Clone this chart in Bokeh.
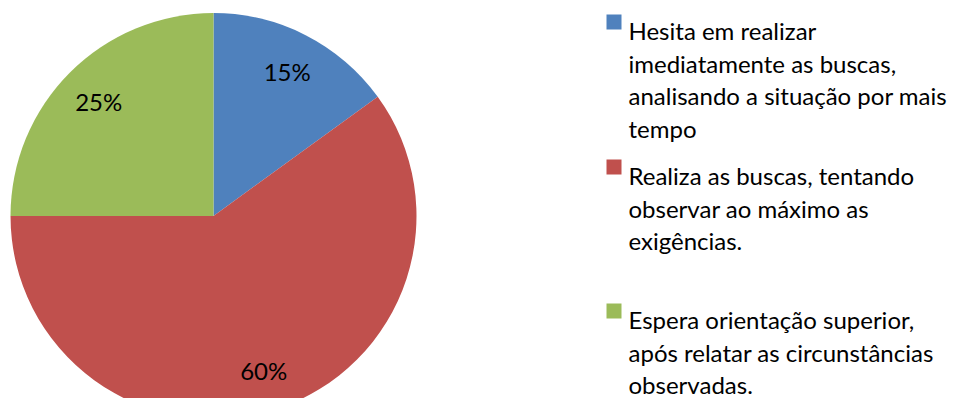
import math
from bokeh.plotting import figure
from bokeh.models import Range1d, ColumnDataSource
from bokeh.core.properties import value
from bokeh.embed import file_html
from bokeh.resources import INLINE

# ---- data ----
categories = [
    "Hesita em realizar imediatamente as buscas, analisando a situação por mais tempo",
    "Realiza as buscas, tentando observar ao máximo as exigências.",
    "Espera orientação superior, após relatar as circunstâncias observadas.",
]
legend_lines = [
    ["Hesita em realizar", "imediatamente as buscas,", "analisando a situação por mais", "tempo"],
    ["Realiza as buscas, tentando", "observar ao máximo as", "exigências."],
    ["Espera orientação superior,", "após relatar as circunstâncias", "observadas."],
]
shares = [15, 60, 25]
colors = ["#4F81BD", "#C0504D", "#9BBB59"]

# ---- layout (figure pixel coordinates) ----
W, H = 953, 398
FONT = "Lato"
FS = "24px"

def sy(y):  # screen y -> data y
    return -y

p = figure(width=W, height=H, output_backend="svg", toolbar_location=None,
           x_range=Range1d(0, W), y_range=Range1d(-H, 0),
           min_border=0)
p.axis.visible = False
p.grid.visible = False
p.outline_line_color = None
p.background_fill_color = "white"

cx, cy, R = 213, sy(215.5), 203
total = sum(shares)
starts, ends, mids = [], [], []
acc = 0.0
for s in shares:
    a0 = math.pi / 2 - acc / total * 2 * math.pi
    acc += s
    a1 = math.pi / 2 - acc / total * 2 * math.pi
    starts.append(a0)
    ends.append(a1)
    mids.append((a0 + a1) / 2)

src = ColumnDataSource(dict(start=starts, end=ends, color=colors))
p.wedge(x=cx, y=cy, radius=R, start_angle="start", end_angle="end",
        direction="clock", fill_color="color", line_color=None, source=src)

lr = 0.80 * R
lx = [cx + lr * math.cos(m) for m in mids]
ly = [cy + lr * math.sin(m) for m in mids]
p.text(x=lx, y=ly, text=[f"{s}%" for s in shares], text_font=value(FONT),
       text_font_size=FS, text_align="center", text_baseline="middle",
       text_color="black")

# legend
first_baselines = [30, 175, 319]
line_gap = 32.5
for lines, b0, col in zip(legend_lines, first_baselines, colors):
    p.rect(x=613.5, y=sy(b0 - 8.5), width=15, height=15, fill_color=col, line_color=None)
    xs = [628] * len(lines)
    ys = [sy(b0 + i * line_gap) for i in range(len(lines))]
    p.text(x=xs, y=ys, text=lines, text_font=value(FONT), text_font_size=FS,
           text_align="left", text_baseline="alphabetic", text_color="black")

open("out.html", "w").write(file_html(p, INLINE))
